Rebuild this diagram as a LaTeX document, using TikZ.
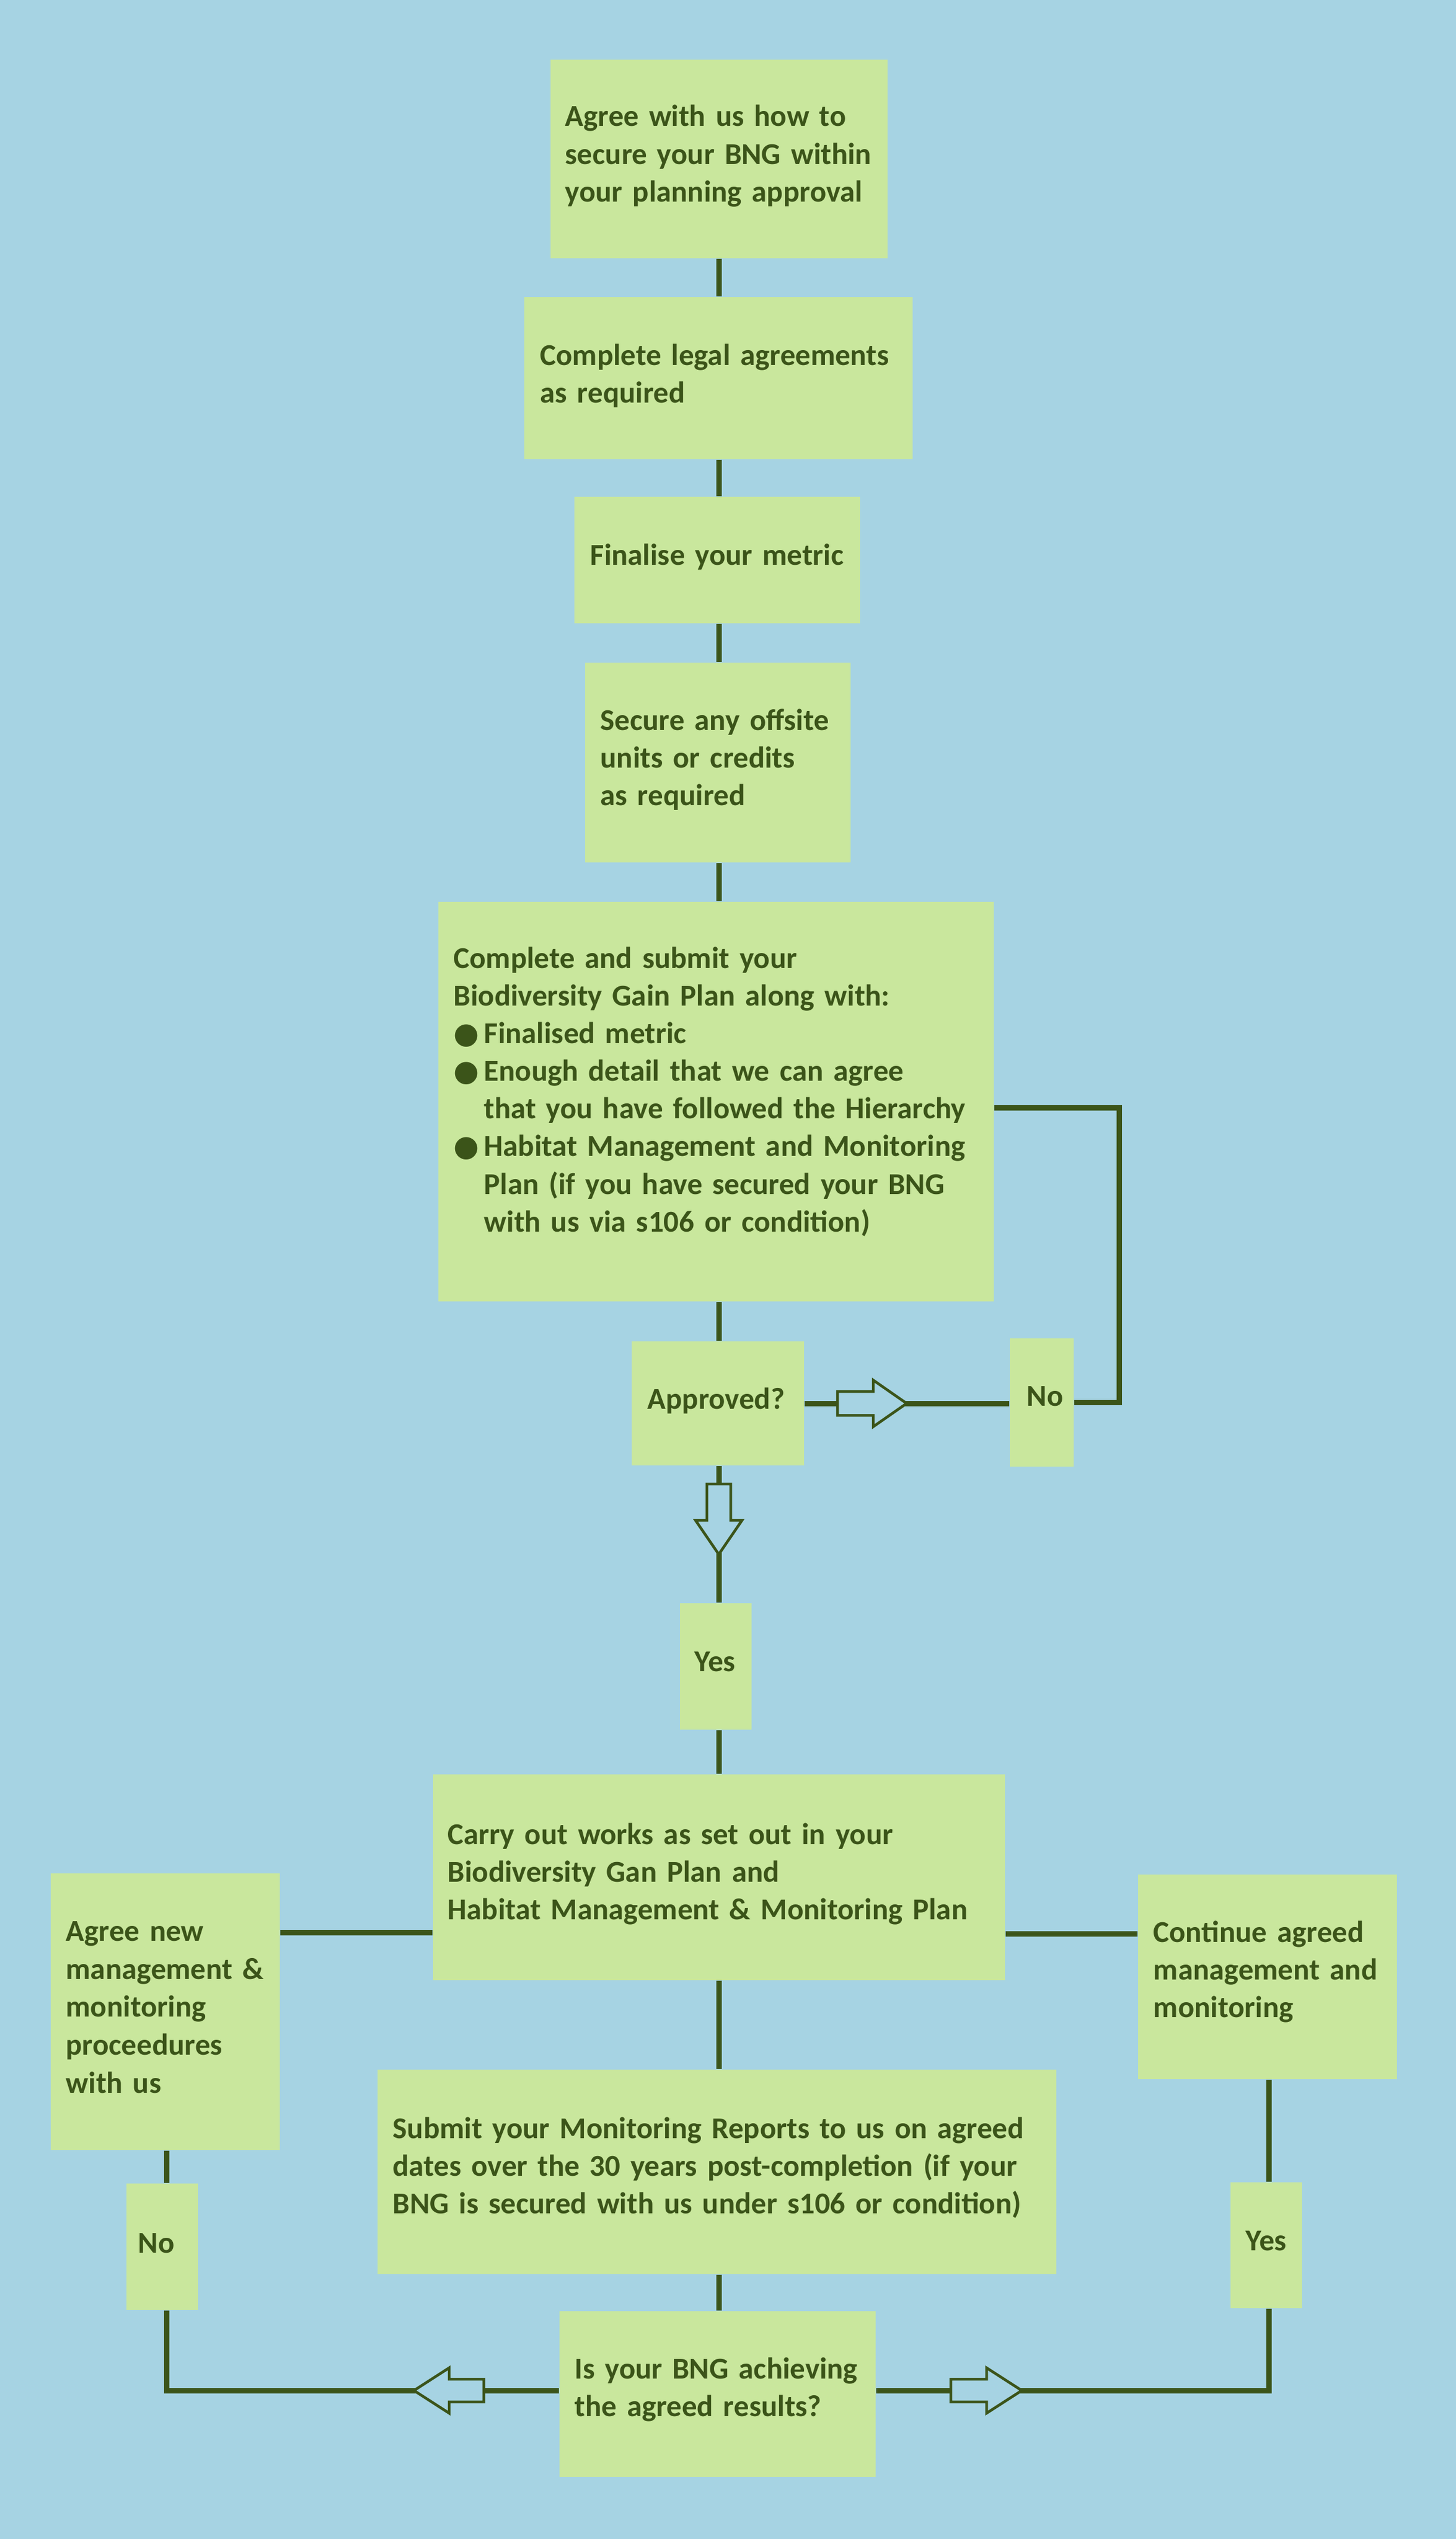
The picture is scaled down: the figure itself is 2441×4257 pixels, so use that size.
\documentclass[tikz,border=0pt]{standalone}
\usepackage{fontspec}
\setmainfont{Carlito}
\newfontfamily\dejavu{DejaVu Sans}
\definecolor{bgblue}{RGB}{166,211,227}
\definecolor{boxgreen}{RGB}{201,231,157}
\definecolor{dkgreen}{RGB}{59,84,25}
\newcommand{\bul}{\makebox[5.1mm][l]{{\dejavu\fontsize{14pt}{14pt}\selectfont ●}}}
\newcommand{\indt}{\hspace*{5.1mm}}
\begin{document}
\begin{tikzpicture}[x=0.1mm,y=-0.1mm,
  box/.style={rectangle, fill=boxgreen, draw=none, inner sep=0pt},
  txt/.style={anchor=base west, inner sep=0pt, align=left, text=dkgreen,
    font=\bfseries\fontsize{14.45pt}{17.98pt}\selectfont},
  conn/.style={draw=dkgreen, line width=0.9mm, line join=miter},
  blk/.style={draw=dkgreen, fill=bgblue, line width=0.45mm, line join=miter}]
\useasboundingbox (0,0) rectangle (2441,4257);
\fill[bgblue] (0,0) rectangle (2441,4257);

% boxes
\node[box, minimum width=56.5mm, minimum height=33.3mm] (b1) at (1205.5,266.5) {};
\node[box, minimum width=65.1mm, minimum height=27.2mm] (b2) at (1204.5,634) {};
\node[box, minimum width=47.9mm, minimum height=21.2mm] (b3) at (1202.5,939) {};
\node[box, minimum width=44.5mm, minimum height=33.5mm] (b4) at (1203.5,1278.5) {};
\node[box, minimum width=93.1mm, minimum height=67.0mm] (b5) at (1200.5,1847) {};
\node[box, minimum width=28.9mm, minimum height=20.8mm] (appr) at (1203.5,2353) {};
\node[box, minimum width=10.7mm, minimum height=21.5mm] (no1) at (1746.5,2351.5) {};
\node[box, minimum width=12.0mm, minimum height=21.2mm] (yes1) at (1200,2794) {};
\node[box, minimum width=95.9mm, minimum height=34.5mm] (b6) at (1205.5,3147.5) {};
\node[box, minimum width=38.4mm, minimum height=46.4mm] (agree) at (277,3373) {};
\node[box, minimum width=43.4mm, minimum height=34.3mm] (cont) at (2125,3314.5) {};
\node[box, minimum width=113.8mm, minimum height=34.3mm] (sub) at (1202,3641.5) {};
\node[box, minimum width=12.0mm, minimum height=21.2mm] (no2) at (272,3767) {};
\node[box, minimum width=12.0mm, minimum height=21.1mm] (yes2) at (2123,3764.5) {};
\node[box, minimum width=53.0mm, minimum height=27.8mm] (isbng) at (1203,4014) {};

% texts
\node[txt, text width=57mm] (t1) at (947,212) {Agree with us how to\\secure your BNG within\\your planning approval};
\node[txt, text width=66mm] (t2) at (905,612) {Complete legal agreements\\as required};
\node[txt, text width=48mm] (t3) at (989,947) {Finalise your metric};
\node[txt, text width=45mm] (t4) at (1006,1224) {Secure any offsite\\units or credits\\as required};
\node[txt, text width=93mm] (t5) at (760,1623) {Complete and submit your\\Biodiversity Gain Plan along with:\\\bul Finalised metric\\\bul Enough detail that we can agree\\\indt that you have followed the Hierarchy\\\bul Habitat Management and Monitoring\\\indt Plan (if you have secured your BNG\\\indt with us via s106 or condition)};
\node[txt, text width=28mm] (tappr) at (1085,2362) {Approved?};
\node[txt, text width=9mm] (tno1) at (1721,2357) {No};
\node[txt, text width=10mm] (tyes1) at (1164,2802) {Yes};
\node[txt, text width=96mm] (t6) at (750,3092) {Carry out works as set out in your\\Biodiversity Gan Plan and\\Habitat Management \& Monitoring Plan};
\node[txt, text width=40mm, font=\bfseries\fontsize{14.45pt}{18.2pt}\selectfont] (tagree) at (110,3254) {Agree new\\management \&\\monitoring\\proceedures\\with us};
\node[txt, text width=10mm] (tno2) at (231,3777) {No};
\node[txt, text width=44mm] (tcont) at (1933,3256) {Continue agreed\\management and\\monitoring};
\node[txt, text width=114mm] (tsub) at (658,3585) {Submit your Monitoring Reports to us on agreed\\dates over the 30 years post-completion (if your\\BNG is secured with us under s106 or condition)};
\node[txt, text width=10mm] (tyes2) at (2088,3773) {Yes};
\node[txt, text width=53mm] (tis) at (963,3988) {Is your BNG achieving\\the agreed results?};

% connectors
\coordinate (spine) at (1205,0);
\draw[conn] (b1.south -| spine) -- (b2.north -| spine);
\draw[conn] (b2.south -| spine) -- (b3.north -| spine);
\draw[conn] (b3.south -| spine) -- (b4.north -| spine);
\draw[conn] (b4.south -| spine) -- (b5.north -| spine);
\draw[conn] (b5.south -| spine) -- (appr.north -| spine);
\draw[conn] (appr.east) -- (appr.east -| no1.west);
\coordinate (fbr) at (1876,1857);
\draw[conn] (no1.east) -| (fbr) -- (b5.east |- fbr);
\draw[conn] (appr.south -| spine) -- (yes1.north -| spine);
\draw[conn] (yes1.south -| spine) -- (b6.north -| spine);
\draw[conn] (b6.south -| spine) -- (sub.north -| spine);
\draw[conn] (sub.south -| spine) -- (isbng.north -| spine);
\coordinate (ly) at (0,3240);
\draw[conn] (b6.west |- ly) -- (agree.east |- ly);
\coordinate (ry) at (0,3242);
\draw[conn] (b6.east |- ry) -- (cont.west |- ry);
\coordinate (lx) at (279,4008);
\draw[conn] (isbng.west |- lx) -- (lx) -- (no2.south -| lx);
\draw[conn] (no2.north -| lx) -- (agree.south -| lx);
\coordinate (rx) at (2127,4008);
\draw[conn] (isbng.east |- rx) -- (rx) -- (yes2.south -| rx);
\draw[conn] (yes2.north -| rx) -- (cont.south -| rx);

% hollow block arrows
\draw[blk] (1404,2333) -- (1464,2333) -- (1464,2314) -- (1520,2353) -- (1464,2392) -- (1464,2373) -- (1404,2373) -- cycle;
\draw[blk] (1185,2488) -- (1185,2549) -- (1166,2549) -- (1205,2606) -- (1244,2549) -- (1225,2549) -- (1225,2488) -- cycle;
\draw[blk] (811,3989) -- (753,3989) -- (753,3970) -- (694,4008) -- (753,4046) -- (753,4027) -- (811,4027) -- cycle;
\draw[blk] (1594,3989) -- (1654,3989) -- (1654,3970) -- (1713,4008) -- (1654,4046) -- (1654,4027) -- (1594,4027) -- cycle;
\end{tikzpicture}
\end{document}
